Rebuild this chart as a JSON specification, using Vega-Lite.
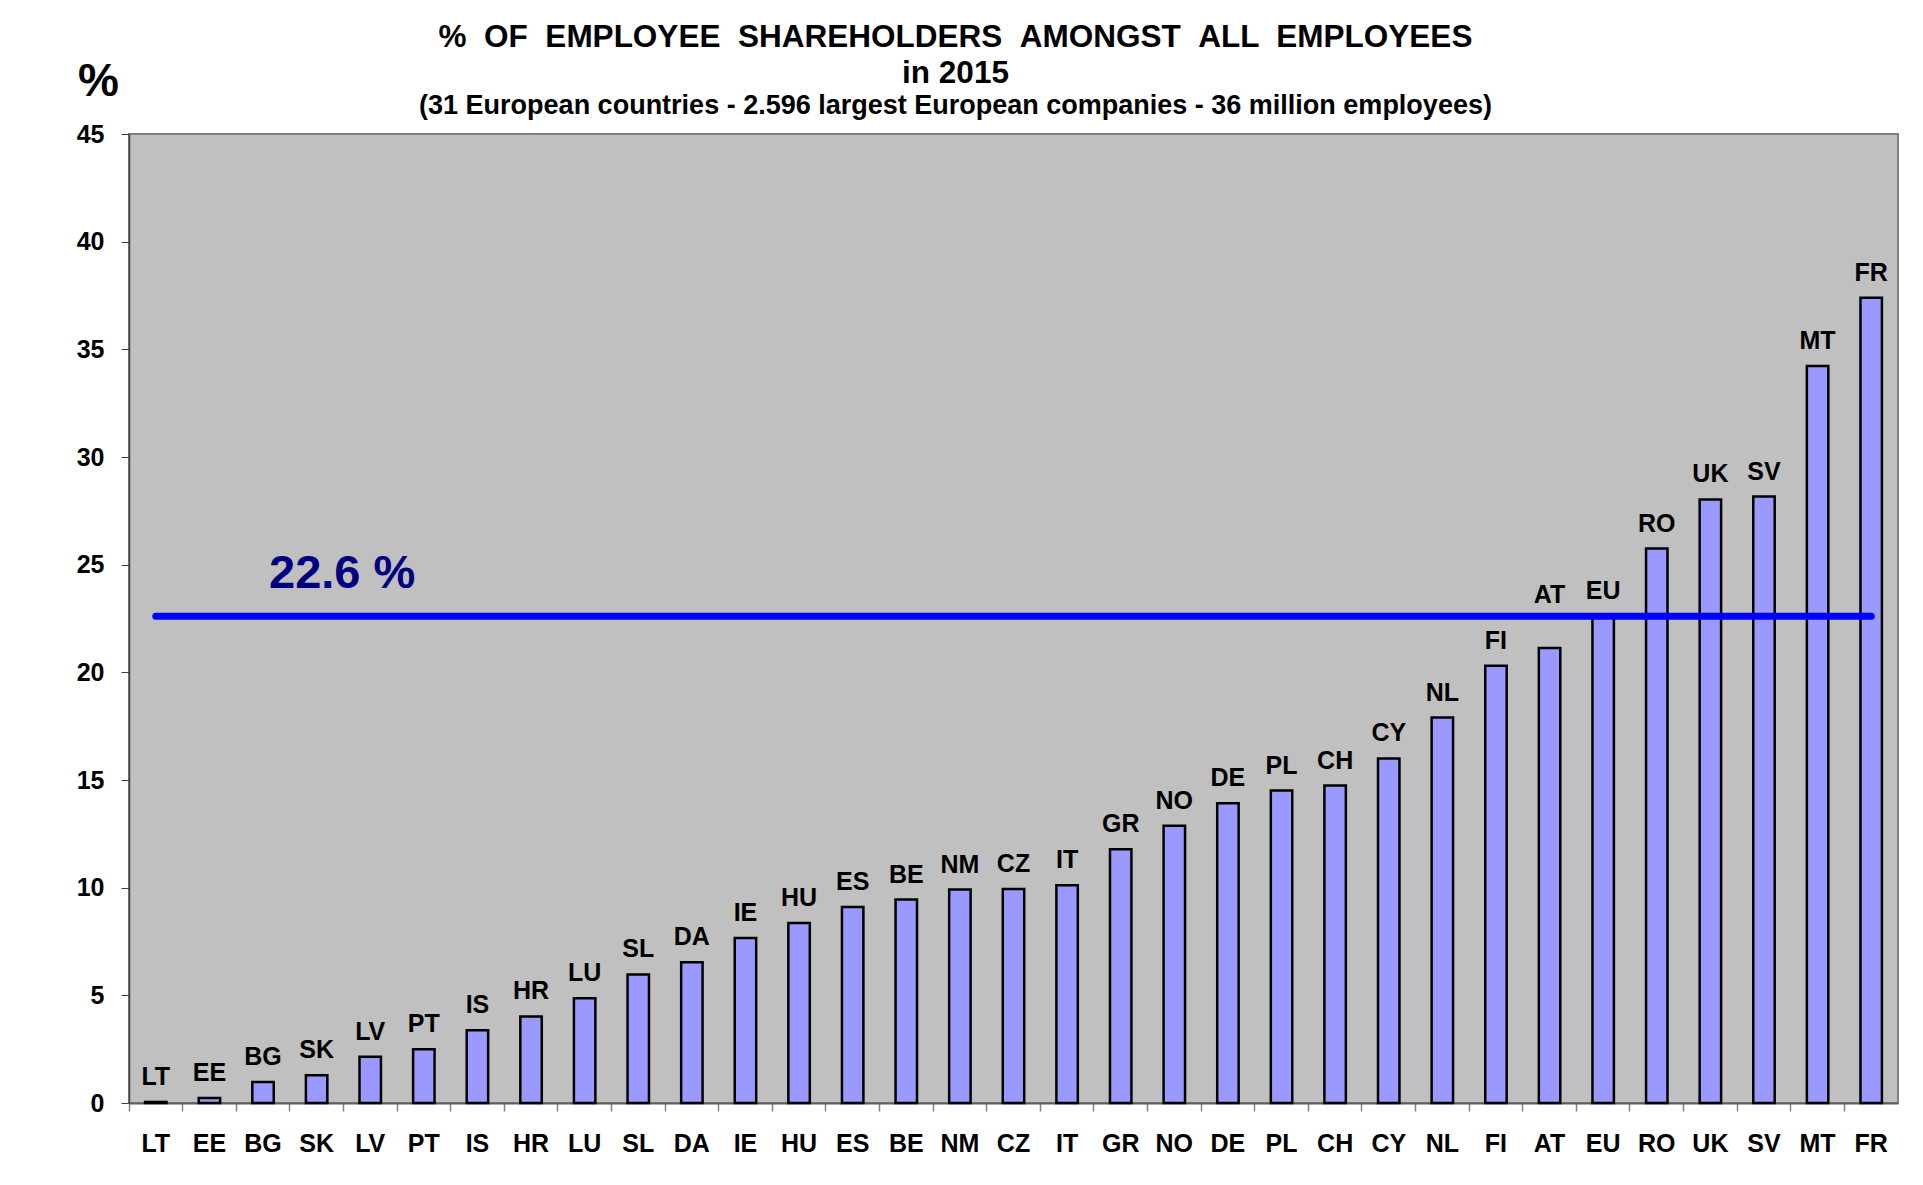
{
  "$schema": "https://vega.github.io/schema/vega-lite/v6.json",
  "width": 1769,
  "height": 969,
  "autosize": {"type": "none"},
  "padding": {"left": 129, "top": 134, "right": 25, "bottom": 82},
  "background": "white",
  "config": {
    "font": "Liberation Sans",
    "view": {"fill": "#C0C0C0", "stroke": "#808080", "strokeWidth": 2}
  },
  "title": {
    "text": ["% \u00a0OF \u00a0EMPLOYEE \u00a0SHAREHOLDERS \u00a0AMONGST \u00a0ALL \u00a0EMPLOYEES", "in 2015"],
    "subtitle": "(31 European countries - 2.596 largest European companies - 36 million employees)",
    "font": "Liberation Sans",
    "subtitleFont": "Liberation Sans",
    "fontSize": 31.5,
    "fontWeight": "bold",
    "lineHeight": 36,
    "color": "#000000",
    "subtitleFontSize": 27,
    "subtitleFontWeight": "bold",
    "subtitleColor": "#000000",
    "subtitlePadding": 4,
    "anchor": "middle",
    "dx": -58,
    "dy": 71,
    "offset": 10
  },
  "datasets": {
    "shares": [
      {"country": "LT", "value": 0.05},
      {"country": "EE", "value": 0.23},
      {"country": "BG", "value": 0.98},
      {"country": "SK", "value": 1.29},
      {"country": "LV", "value": 2.15},
      {"country": "PT", "value": 2.5},
      {"country": "IS", "value": 3.38},
      {"country": "HR", "value": 4.02},
      {"country": "LU", "value": 4.87},
      {"country": "SL", "value": 5.97},
      {"country": "DA", "value": 6.54},
      {"country": "IE", "value": 7.66},
      {"country": "HU", "value": 8.36},
      {"country": "ES", "value": 9.1},
      {"country": "BE", "value": 9.45},
      {"country": "NM", "value": 9.91},
      {"country": "CZ", "value": 9.94},
      {"country": "IT", "value": 10.11},
      {"country": "GR", "value": 11.78},
      {"country": "NO", "value": 12.88},
      {"country": "DE", "value": 13.92},
      {"country": "PL", "value": 14.51},
      {"country": "CH", "value": 14.74},
      {"country": "CY", "value": 16.0},
      {"country": "NL", "value": 17.9},
      {"country": "FI", "value": 20.3},
      {"country": "AT", "value": 21.13},
      {"country": "EU", "value": 22.6},
      {"country": "RO", "value": 25.75},
      {"country": "UK", "value": 28.03},
      {"country": "SV", "value": 28.16},
      {"country": "MT", "value": 34.23},
      {"country": "FR", "value": 37.39}
    ],
    "avgline": [
      {"country": "LT", "value": 22.6},
      {"country": "FR", "value": 22.6}
    ],
    "note": [
      {"country": "BG", "value": 22.6, "label": "22.6 %"}
    ]
  },
  "layer": [
    {
      "data": {"name": "shares"},
      "mark": {"type": "bar", "fill": "#9999FF", "stroke": "#000000", "strokeWidth": 2.5, "width": {"band": 0.4}},
      "encoding": {
        "x": {
          "field": "country", "type": "nominal",
          "scale": {"domain": ["LT","EE","BG","SK","LV","PT","IS","HR","LU","SL","DA","IE","HU","ES","BE","NM","CZ","IT","GR","NO","DE","PL","CH","CY","NL","FI","AT","EU","RO","UK","SV","MT","FR"], "paddingInner": 0, "paddingOuter": 0},
          "axis": {
            "title": null, "labelAngle": 0, "labelFontSize": 25, "labelFontWeight": "bold", "labelColor": "#000000",
            "labelPadding": 20, "tickSize": 8, "tickColor": "#808080", "tickWidth": 1.5, "bandPosition": 0,
            "domainColor": "#606060", "domainWidth": 2, "grid": false
          }
        },
        "y": {
          "field": "value", "type": "quantitative",
          "scale": {"domain": [0, 45], "nice": false},
          "axis": {
            "values": [0, 5, 10, 15, 20, 25, 30, 35, 40, 45],
            "title": "%", "titleAngle": 0, "titleX": -31, "titleY": -39, "titleAlign": "center", "titleBaseline": "alphabetic",
            "titleFontSize": 46, "titleFontWeight": "bold", "titleColor": "#000000",
            "labelFontSize": 25, "labelFontWeight": "bold", "labelColor": "#000000", "labelPadding": 17,
            "tickSize": 8, "tickColor": "#404040", "domainColor": "#404040", "domainWidth": 1.5, "grid": false
          }
        }
      }
    },
    {
      "data": {"name": "shares"},
      "transform": [{"filter": "datum.country != 'AT'"}],
      "mark": {"type": "text", "baseline": "alphabetic", "align": "center", "dy": -17, "fontSize": 25, "fontWeight": "bold", "color": "#000000"},
      "encoding": {
        "x": {"field": "country", "type": "nominal"},
        "y": {"field": "value", "type": "quantitative"},
        "text": {"field": "country"}
      }
    },
    {
      "data": {"name": "shares"},
      "transform": [{"filter": "datum.country == 'AT'"}],
      "mark": {"type": "text", "baseline": "alphabetic", "align": "center", "dy": -45, "fontSize": 25, "fontWeight": "bold", "color": "#000000"},
      "encoding": {
        "x": {"field": "country", "type": "nominal"},
        "y": {"field": "value", "type": "quantitative"},
        "text": {"field": "country"}
      }
    },
    {
      "data": {"name": "avgline"},
      "mark": {"type": "line", "color": "#0000FF", "strokeWidth": 7, "strokeCap": "round"},
      "encoding": {
        "x": {"field": "country", "type": "nominal"},
        "y": {"field": "value", "type": "quantitative"}
      }
    },
    {
      "data": {"name": "note"},
      "mark": {"type": "text", "align": "left", "baseline": "alphabetic", "dx": 6, "dy": -28, "fontSize": 47, "fontWeight": "bold", "color": "#000080"},
      "encoding": {
        "x": {"field": "country", "type": "nominal"},
        "y": {"field": "value", "type": "quantitative"},
        "text": {"field": "label"}
      }
    }
  ]
}
